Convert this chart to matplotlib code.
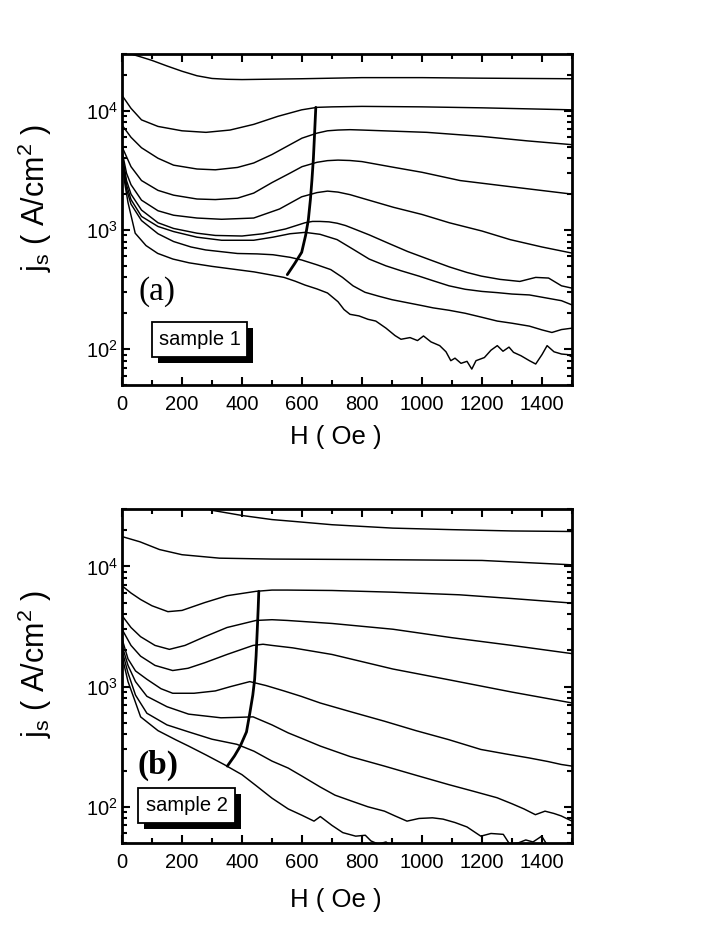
import matplotlib
matplotlib.use("Agg")
import matplotlib.pyplot as plt
from matplotlib.ticker import LogLocator, MultipleLocator, NullFormatter
from matplotlib.patches import Rectangle

plt.rcParams['font.family'] = ['Liberation Sans', 'DejaVu Sans']
plt.rcParams['mathtext.fontset'] = 'custom'
plt.rcParams['mathtext.rm'] = 'Liberation Sans'
plt.rcParams['mathtext.it'] = 'Liberation Sans:italic'

# ---------------- sample 1 (panel a) ----------------
H_a1 = [0, 30, 60, 100, 150, 200, 250, 300, 350, 400, 600, 800, 1000, 1200, 1500]
J_a1 = [3.4e4, 3.0e4, 2.85e4, 2.65e4, 2.38e4, 2.15e4, 1.97e4, 1.87e4, 1.84e4, 1.83e4, 1.86e4, 1.9e4, 1.9e4, 1.88e4, 1.86e4]

H_a2 = [0, 30, 65, 120, 200, 280, 360, 439, 520, 599, 650, 700, 800, 1000, 1200, 1500]
J_a2 = [1.35e4, 1.05e4, 8.4e3, 7.4e3, 6.8e3, 6.6e3, 6.9e3, 7.7e3, 9.0e3, 1.02e4, 1.07e4, 1.08e4, 1.09e4, 1.08e4, 1.06e4, 1.02e4]

H_a3 = [0, 30, 65, 120, 172, 250, 311, 385, 439, 500, 560, 600, 650, 685, 720, 760, 800, 1016, 1200, 1350, 1500]
J_a3 = [7.6e3, 6.0e3, 4.9e3, 4.0e3, 3.5e3, 3.25e3, 3.2e3, 3.35e3, 3.65e3, 4.3e3, 5.2e3, 5.9e3, 6.5e3, 6.8e3, 6.9e3, 6.95e3, 6.9e3, 6.6e3, 6.1e3, 5.6e3, 5.2e3]

H_a4 = [0, 30, 65, 120, 172, 250, 311, 385, 439, 500, 560, 600, 650, 685, 720, 760, 800, 905, 1000, 1127, 1300, 1500]
J_a4 = [5.0e3, 3.4e3, 2.6e3, 2.15e3, 1.96e3, 1.82e3, 1.8e3, 1.85e3, 2.04e3, 2.5e3, 3.0e3, 3.4e3, 3.7e3, 3.82e3, 3.86e3, 3.83e3, 3.75e3, 3.36e3, 3.05e3, 2.6e3, 2.3e3, 2.0e3]

H_a5 = [0, 15, 30, 65, 120, 172, 250, 332, 439, 525, 599, 650, 685, 720, 760, 800, 905, 1000, 1091, 1200, 1294, 1400, 1500]
J_a5 = [4.6e3, 3.0e3, 2.4e3, 1.78e3, 1.45e3, 1.33e3, 1.26e3, 1.23e3, 1.26e3, 1.5e3, 1.9e3, 2.06e3, 2.12e3, 2.08e3, 1.98e3, 1.85e3, 1.55e3, 1.35e3, 1.15e3, 980, 830, 720, 640]

H_a6 = [0, 15, 30, 65, 120, 172, 250, 311, 400, 470, 545, 610, 635, 660, 690, 717, 745, 770, 824, 890, 952, 1020, 1091, 1150, 1198, 1260, 1326, 1379, 1422, 1465, 1500]
J_a6 = [4.4e3, 2.6e3, 2.0e3, 1.47e3, 1.15e3, 1.03e3, 940, 900, 890, 930, 1.02e3, 1.15e3, 1.18e3, 1.18e3, 1.17e3, 1.14e3, 1.09e3, 1.03e3, 910, 770, 660, 570, 490, 440, 410, 385, 370, 400, 395, 340, 325]

H_a7 = [0, 15, 30, 65, 120, 172, 250, 332, 439, 503, 560, 610, 660, 717, 770, 824, 880, 930, 990, 1037, 1090, 1144, 1200, 1251, 1300, 1358, 1410, 1465, 1500]
J_a7 = [4.2e3, 2.4e3, 1.8e3, 1.3e3, 1.07e3, 970, 870, 820, 820, 870, 930, 955, 920, 830, 690, 570, 500, 455, 410, 375, 340, 318, 305, 298, 290, 285, 270, 255, 235]

H_a8 = [0, 15, 30, 65, 120, 172, 230, 279, 385, 450, 503, 560, 599, 650, 696, 735, 770, 810, 856, 900, 952, 1000, 1037, 1090, 1144, 1200, 1251, 1300, 1358, 1400, 1433, 1465, 1500]
J_a8 = [4.0e3, 2.2e3, 1.65e3, 1.2e3, 930, 800, 720, 680, 635, 630, 620, 590, 560, 510, 465, 400, 340, 300, 278, 260, 245, 232, 222, 212, 200, 185, 172, 165, 156, 145, 138, 146, 150]

H_a9 = [0, 10, 20, 44, 80, 119, 170, 224, 300, 385, 440, 493, 540, 577, 610, 650, 685, 720, 740, 760, 790, 820, 846, 880, 910, 930, 960, 985, 1005, 1030, 1059, 1080, 1096, 1110, 1130, 1150, 1166, 1180, 1208, 1230, 1251, 1270, 1290, 1305, 1330, 1358, 1379, 1400, 1417, 1440, 1465, 1485, 1500]
J_a9 = [3.8e3, 2.4e3, 1.7e3, 940, 740, 636, 570, 530, 495, 464, 445, 421, 400, 372, 345, 320, 296, 250, 215, 196, 190, 178, 172, 150, 130, 121, 125, 118, 129, 115, 107, 95, 80, 84, 76, 79, 68, 80, 85, 98, 107, 96, 104, 94, 88, 80, 75, 90, 107, 95, 91, 90, 86]

H_peak_a = [551, 575, 599, 612, 621, 628, 633, 638, 642, 646]
J_peak_a = [422, 520, 650, 900, 1210, 1800, 2600, 4000, 6500, 1.07e4]

# ---------------- sample 2 (panel b) ----------------
H_b1 = [250, 302, 400, 500, 569, 700, 903, 1100, 1300, 1500]
J_b1 = [3.2e4, 2.92e4, 2.65e4, 2.45e4, 2.37e4, 2.22e4, 2.08e4, 2.02e4, 1.97e4, 1.95e4]

H_b2 = [0, 60, 125, 200, 325, 500, 800, 1200, 1500]
J_b2 = [1.77e4, 1.6e4, 1.38e4, 1.25e4, 1.17e4, 1.15e4, 1.14e4, 1.12e4, 1.03e4]

H_b3 = [0, 30, 62, 100, 153, 200, 276, 350, 447, 500, 550, 700, 900, 1125, 1300, 1500]
J_b3 = [6.9e3, 6.0e3, 5.3e3, 4.7e3, 4.2e3, 4.3e3, 5.0e3, 5.7e3, 6.2e3, 6.35e3, 6.35e3, 6.3e3, 6.1e3, 5.8e3, 5.4e3, 4.95e3]

H_b4 = [0, 30, 62, 110, 158, 210, 276, 350, 447, 500, 550, 700, 903, 1100, 1300, 1500]
J_b4 = [3.9e3, 3.1e3, 2.6e3, 2.2e3, 2.04e3, 2.2e3, 2.6e3, 3.1e3, 3.55e3, 3.6e3, 3.55e3, 3.35e3, 3.0e3, 2.55e3, 2.2e3, 1.88e3]

H_b5 = [0, 30, 62, 110, 169, 220, 276, 350, 437, 470, 500, 569, 700, 903, 1089, 1300, 1500]
J_b5 = [3.0e3, 2.2e3, 1.79e3, 1.5e3, 1.36e3, 1.42e3, 1.58e3, 1.85e3, 2.2e3, 2.25e3, 2.2e3, 2.1e3, 1.85e3, 1.4e3, 1.14e3, 900, 731]

H_b6 = [0, 20, 45, 83, 130, 169, 240, 311, 362, 426, 480, 540, 597, 661, 760, 875, 980, 1089, 1196, 1280, 1357, 1420, 1464, 1500]
J_b6 = [2.5e3, 1.7e3, 1.35e3, 1.15e3, 960, 880, 880, 920, 1.0e3, 1.1e3, 1.02e3, 920, 830, 730, 620, 515, 430, 362, 300, 275, 255, 238, 225, 218]

H_b7 = [0, 20, 45, 83, 150, 222, 330, 390, 437, 500, 554, 600, 661, 760, 875, 980, 1089, 1170, 1250, 1300, 1340, 1378, 1410, 1440, 1464, 1500]
J_b7 = [2.2e3, 1.5e3, 1.1e3, 830, 680, 590, 550, 555, 560, 480, 412, 370, 320, 262, 218, 183, 153, 135, 119, 106, 96, 86, 92, 88, 84, 76]

H_b8 = [0, 20, 45, 83, 150, 222, 300, 383, 440, 500, 554, 600, 661, 710, 768, 820, 875, 910, 950, 990, 1035, 1070, 1110, 1150, 1196, 1230, 1271, 1292, 1320, 1346, 1370, 1399, 1420, 1460, 1500]
J_b8 = [2.0e3, 1.3e3, 850, 600, 480, 420, 365, 331, 290, 240, 210, 180, 146, 125, 111, 100, 92, 84, 76, 80, 81, 79, 74, 68, 57, 60, 59, 49, 50, 53, 51, 57, 47, 44, 42]

H_b9 = [0, 20, 40, 62, 120, 180, 222, 280, 340, 400, 447, 500, 554, 600, 640, 661, 700, 736, 779, 811, 830, 854, 880, 900, 930, 1000]
J_b9 = [1.8e3, 1.1e3, 800, 560, 430, 360, 320, 270, 225, 185, 150, 118, 96, 85, 76, 83, 70, 61, 57, 58, 52, 49, 51, 47, 45, 40]

H_peak_b = [351, 375, 394, 415, 426, 436, 442, 447, 451, 454, 456]
J_peak_b = [218, 265, 319, 420, 600, 850, 1140, 1800, 3000, 4500, 6200]

panel_a = [(H_a1, J_a1), (H_a2, J_a2), (H_a3, J_a3), (H_a4, J_a4), (H_a5, J_a5),
           (H_a6, J_a6), (H_a7, J_a7), (H_a8, J_a8), (H_a9, J_a9)]
panel_b = [(H_b1, J_b1), (H_b2, J_b2), (H_b3, J_b3), (H_b4, J_b4), (H_b5, J_b5),
           (H_b6, J_b6), (H_b7, J_b7), (H_b8, J_b8), (H_b9, J_b9)]

x_ticks = [0, 200, 400, 600, 800, 1000, 1200, 1400]

W, Hh = 708.0, 944.0
fig = plt.figure(figsize=(7.08, 9.44), dpi=100)
ax_a = fig.add_axes([122 / W, 1 - 385 / Hh, 450 / W, 331 / Hh])
ax_b = fig.add_axes([122 / W, 1 - 843 / Hh, 450 / W, 334 / Hh])


def style(ax, curves, peak, letter, sample, letter_pos, box, bold, ylab_y, xlab_y):
    for H, J in curves:
        ax.plot(H, J, color='black', lw=1.05)
    ax.plot(peak[0], peak[1], color='black', lw=2.0, solid_capstyle='round')
    ax.set_yscale('log')
    ax.set_xlim(0, 1500)
    ax.set_ylim(50, 3e4)
    ax.set_xticks(x_ticks)
    ax.xaxis.set_minor_locator(MultipleLocator(100))
    ax.yaxis.set_major_locator(LogLocator(base=10, numticks=10))
    ax.yaxis.set_minor_locator(LogLocator(base=10, subs=range(2, 10), numticks=20))
    ax.yaxis.set_minor_formatter(NullFormatter())
    ax.tick_params(which='both', direction='in', top=True, right=True,
                   labelsize=14.5, width=1.5)
    ax.tick_params(which='major', length=6)
    ax.tick_params(axis='x', which='major', pad=7)
    ax.tick_params(axis='y', which='major', pad=3)
    ax.tick_params(which='minor', length=3.5)
    for s in ax.spines.values():
        s.set_linewidth(2.0)
    ax.set_xlabel('H ( Oe )', fontsize=18.5)
    ax.xaxis.set_label_coords(0.475, xlab_y)
    ax.set_ylabel(r'j$_\mathregular{s}$ ( A/cm$^\mathregular{2}$ )', fontsize=22)
    ax.yaxis.set_label_coords(-0.15, ylab_y)
    ax.text(letter_pos[0], letter_pos[1], letter, transform=ax.transAxes,
            fontsize=24, family=['Liberation Serif', 'DejaVu Serif'],
            fontweight='bold' if bold else 'normal', ha='center', va='center')
    x0, x1, y0, y1, dx, dy = box
    ax.add_patch(Rectangle((x0 + dx, y0 - dy), x1 - x0, y1 - y0, transform=ax.transAxes,
                           facecolor='black', edgecolor='black', lw=0, zorder=5))
    ax.add_patch(Rectangle((x0, y0), x1 - x0, y1 - y0, transform=ax.transAxes,
                           facecolor='white', edgecolor='black', lw=1.3, zorder=6))
    ax.text((x0 + x1) / 2, (y0 + y1) / 2, sample, transform=ax.transAxes,
            fontsize=14.5, ha='center', va='center', zorder=7)


style(ax_a, panel_a, (H_peak_a, J_peak_a), '(a)', 'sample 1', (0.078, 0.281),
      (0.067, 0.278, 0.085, 0.190, 0.0135, 0.018), False, 0.565, -0.12)
style(ax_b, panel_b, (H_peak_b, J_peak_b), '(b)', 'sample 2', (0.08, 0.232),
      (0.036, 0.251, 0.060, 0.165, 0.0135, 0.018), True, 0.535, -0.135)

fig.savefig('out.png', dpi=100)
